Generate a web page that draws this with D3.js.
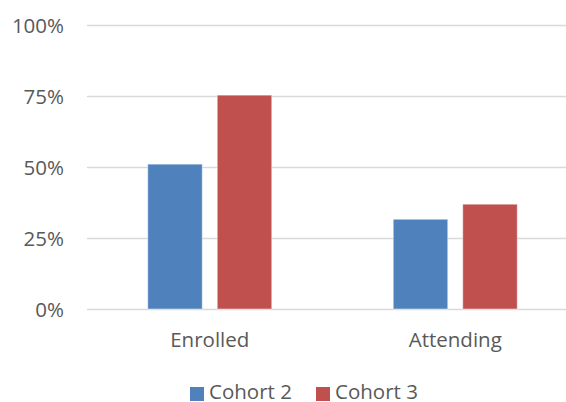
<!DOCTYPE html>
<html>
<head>
<meta charset="utf-8">
<script src="https://cdn.jsdelivr.net/npm/d3@7"></script>
<style>
  html, body { margin: 0; padding: 0; background: #fff; }
  svg { display: block; font-family: "Open Sans", "Noto Sans", sans-serif; }
</style>
</head>
<body>
<svg id="chart" width="566" height="402"></svg>
<script>
// Share of each cohort, by stage
const categories = ["Enrolled", "Attending"];
const seriesNames = ["Cohort 2", "Cohort 3"];
const cohort2 = [0.51, 0.316];
const cohort3 = [0.753, 0.369];
const tickValues = [0, 0.25, 0.5, 0.75, 1];
const colors = ["#4F81BD", "#C0504D"];

const FONT = "20.5px";
const svg = d3.select("#chart");
const margin = { left: 87, right: 578, top: 25, bottom: 309 };

const x = d3.scaleBand()
  .domain(categories)
  .range([margin.left, margin.right])
  .paddingInner(0)
  .paddingOuter(0);

const y = d3.scaleLinear().domain([0, 1]).range([margin.bottom, margin.top]);

// Bar cluster inside each category: two bars with a small gap
const clusterWidth = 124;
const inner = d3.scaleBand()
  .domain(seriesNames)
  .range([0, clusterWidth])
  .paddingInner(0.216);

// Gridlines
const grid = svg.append("g")
  .attr("transform", `translate(${margin.left},0)`)
  .call(d3.axisLeft(y).tickValues(tickValues).tickSize(-(margin.right - margin.left)).tickFormat(""));
grid.select(".domain").remove();
grid.selectAll(".tick line").attr("stroke", "#d9d9d9").attr("stroke-width", 1.5);

// Y tick labels
const yAxis = svg.append("g")
  .attr("transform", `translate(64,0)`)
  .call(d3.axisLeft(y).tickValues(tickValues).tickSize(0).tickPadding(0).tickFormat(d3.format(".0%")));
yAxis.select(".domain").remove();
yAxis.selectAll("text")
  .attr("dy", "0.36em")
  .attr("fill", "#595959")
  .style("font-size", FONT)
  .style("font-family", "'Open Sans', sans-serif");

// Bars
const series = [cohort2, cohort3];
series.forEach((vals, si) => {
  svg.append("g").selectAll("rect")
    .data(categories.map((c, i) => ({ c, v: vals[i] })))
    .join("rect")
    .attr("x", d => x(d.c) + x.bandwidth() / 2 - clusterWidth / 2 + inner(seriesNames[si]))
    .attr("width", inner.bandwidth())
    .attr("y", d => y(d.v))
    .attr("height", d => y(0) - y(d.v))
    .attr("fill", colors[si])
    .attr("stroke", "rgba(255,255,255,0.45)")
    .attr("stroke-width", 1);
});

// X category labels
const xAxis = svg.append("g")
  .attr("transform", `translate(0,${margin.bottom})`)
  .call(d3.axisBottom(x).tickSize(0).tickPadding(0));
xAxis.select(".domain").remove();
xAxis.selectAll("text")
  .attr("dy", null)
  .attr("y", 38)
  .attr("fill", "#595959")
  .style("font-size", FONT)
  .style("font-family", "'Open Sans', sans-serif");

// Legend
const legend = svg.append("g");
const legendX = [190, 316];
seriesNames.forEach((name, i) => {
  legend.append("rect")
    .attr("x", legendX[i]).attr("y", 387)
    .attr("width", 14).attr("height", 14)
    .attr("fill", colors[i]);
  legend.append("text")
    .attr("x", legendX[i] + 19).attr("y", 399)
    .attr("fill", "#595959")
    .style("font-size", FONT)
    .text(name);
});
</script>
</body>
</html>
